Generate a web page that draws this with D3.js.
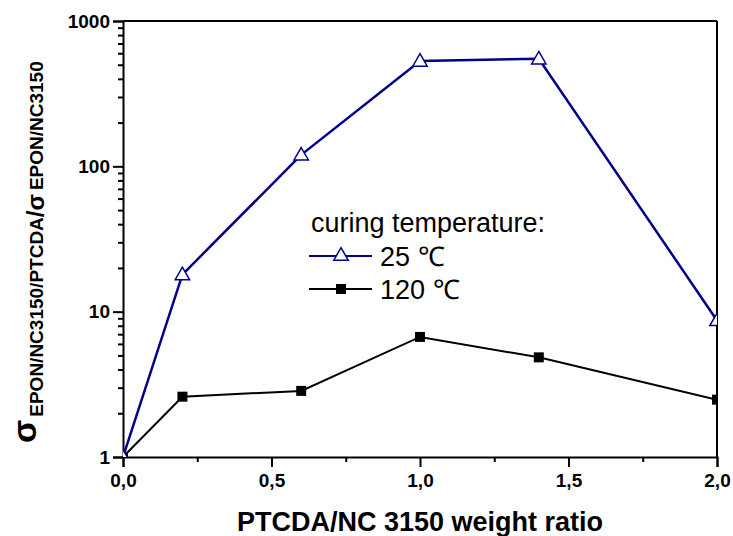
<!DOCTYPE html>
<html>
<head>
<meta charset="utf-8">
<script src="https://cdn.jsdelivr.net/npm/d3@7"></script>
<style>
  body { margin: 0; background: #fff; }
  text { font-family: Arial, "Liberation Sans", sans-serif; }
</style>
</head>
<body>
<div id="chart"></div>
<script>
// Data
const ratios = [0, 0.2, 0.6, 1.0, 1.4, 2.0];
const sigma25 = [1, 18, 120, 530, 550, 8.7];
const sigma120 = [1, 2.6, 2.85, 6.7, 4.85, 2.48];
const xTicks = [0, 0.5, 1.0, 1.5, 2.0];
const xMinor = [0.25, 0.75, 1.25, 1.75];
const yTicks = [1, 10, 100, 1000];
const seriesNames = ["25 \u2103", "120 \u2103"];

// Set SVG Area
const svgWidth = 733;
const svgHeight = 536;
const margin = { top: 21, right: 16, bottom: 79, left: 123 };
const chartWidth = svgWidth - margin.left - margin.right;
const chartHeight = svgHeight - margin.top - margin.bottom;

const svg = d3.select("#chart")
  .append("svg")
  .attr("width", svgWidth)
  .attr("height", svgHeight);

const chartG = svg.append("g")
  .attr("transform", `translate(${margin.left}, ${margin.top})`);

const x = d3.scaleLinear().domain([0, 2]).range([0, chartWidth]);
const y = d3.scaleLog().domain([1, 1000]).range([chartHeight, 0]);

// minor y ticks 2..9 of each decade
const yMinor = [];
[1, 10, 100].forEach(d => { for (let k = 2; k <= 9; k++) yMinor.push(d * k); });

// Axes
const xAxisG = chartG.append("g")
  .attr("transform", `translate(0, ${chartHeight})`)
  .call(d3.axisBottom(x).tickValues(xTicks).tickSize(10).tickPadding(7)
    .tickFormat(d => d3.format(".1f")(d).replace(".", ",")));
chartG.append("g")
  .attr("transform", `translate(0, ${chartHeight})`)
  .call(d3.axisBottom(x).tickValues(xMinor).tickSize(5).tickFormat(""))
  .call(g => g.select(".domain").remove());

const yAxisG = chartG.append("g")
  .call(d3.axisLeft(y).tickValues(yTicks).tickSize(10).tickPadding(3)
    .tickFormat(d3.format("d")));
chartG.append("g")
  .call(d3.axisLeft(y).tickValues(yMinor).tickSize(5).tickFormat(""))
  .call(g => g.select(".domain").remove());

svg.selectAll(".tick line").attr("stroke", "#000").attr("stroke-width", 2);
svg.selectAll(".domain").attr("stroke", "#000").attr("stroke-width", 2);
[xAxisG, yAxisG].forEach(g => g.selectAll(".tick text")
  .attr("font-size", 19).attr("font-weight", "bold").attr("fill", "#000"));

// Frame top / right
chartG.append("line").attr("x1", 0).attr("x2", chartWidth).attr("y1", 0).attr("y2", 0)
  .attr("stroke", "#000").attr("stroke-width", 2);
chartG.append("line").attr("x1", chartWidth).attr("x2", chartWidth).attr("y1", 0).attr("y2", chartHeight)
  .attr("stroke", "#000").attr("stroke-width", 2);

// Clip
chartG.append("clipPath").attr("id", "clip")
  .append("rect").attr("width", chartWidth).attr("height", chartHeight);

const line = d3.line().x(d => x(d[0])).y(d => y(d[1]));
const data25 = ratios.map((r, i) => [r, sigma25[i]]);
const data120 = ratios.map((r, i) => [r, sigma120[i]]);

const plotArea = chartG.append("g").attr("clip-path", "url(#clip)");

plotArea.append("path").datum(data120).attr("d", line)
  .attr("fill", "none").attr("stroke", "#000").attr("stroke-width", 2);
plotArea.append("path").datum(data25).attr("d", line)
  .attr("fill", "none").attr("stroke", "#00008B").attr("stroke-width", 2.5);

const sq = d3.symbol().type(d3.symbolSquare).size(100);
const tri = d3.symbol().type(d3.symbolTriangle).size(90);

plotArea.selectAll(".sq").data(data120).enter().append("path")
  .attr("class", "sq")
  .attr("transform", d => `translate(${x(d[0])}, ${y(d[1])})`)
  .attr("d", sq).attr("fill", "#000");
plotArea.selectAll(".tri").data(data25).enter().append("path")
  .attr("class", "tri")
  .attr("transform", d => `translate(${x(d[0])}, ${y(d[1]) + 1})`)
  .attr("d", tri).attr("fill", "#fff").attr("stroke", "#00008B").attr("stroke-width", 1.5);

// Legend
const legend = svg.append("g");
legend.append("text").attr("x", 311).attr("y", 232)
  .attr("font-size", 27).attr("fill", "#000").text("curing temperature:");
const legendRows = [
  { name: seriesNames[0], y: 256, color: "#00008B", sym: tri, fill: "#fff" },
  { name: seriesNames[1], y: 289, color: "#000", sym: sq, fill: "#000" }
];
legendRows.forEach(r => {
  legend.append("line").attr("x1", 309).attr("x2", 372).attr("y1", r.y).attr("y2", r.y)
    .attr("stroke", r.color).attr("stroke-width", 2);
  legend.append("path").attr("transform", `translate(341, ${r.y})`)
    .attr("d", r.sym).attr("fill", r.fill).attr("stroke", r.color)
    .attr("stroke-width", r.fill === "#fff" ? 1.5 : 0);
  legend.append("text").attr("x", 380).attr("y", r.y + 10)
    .attr("font-size", 27).attr("fill", "#000").text(r.name);
});

// X label
svg.append("text")
  .attr("x", 420).attr("y", 531)
  .attr("text-anchor", "middle")
  .attr("font-size", 27).attr("font-weight", "bold")
  .text("PTCDA/NC 3150 weight ratio");

// Y label
const yLab = svg.append("text")
  .attr("transform", "translate(36, 443) rotate(-90)")
  .attr("font-weight", "bold").attr("fill", "#000");
yLab.append("tspan").attr("font-size", 34).text("\u03C3");
yLab.append("tspan").attr("font-size", 19).attr("dx", 3).attr("dy", 7).text("EPON/NC3150/PTCDA");
yLab.append("tspan").attr("font-size", 24).attr("dy", 1).text("/\u03C3");
yLab.append("tspan").attr("font-size", 19).attr("dx", 4).attr("dy", -1).text("EPON/NC3150");
</script>
</body>
</html>
